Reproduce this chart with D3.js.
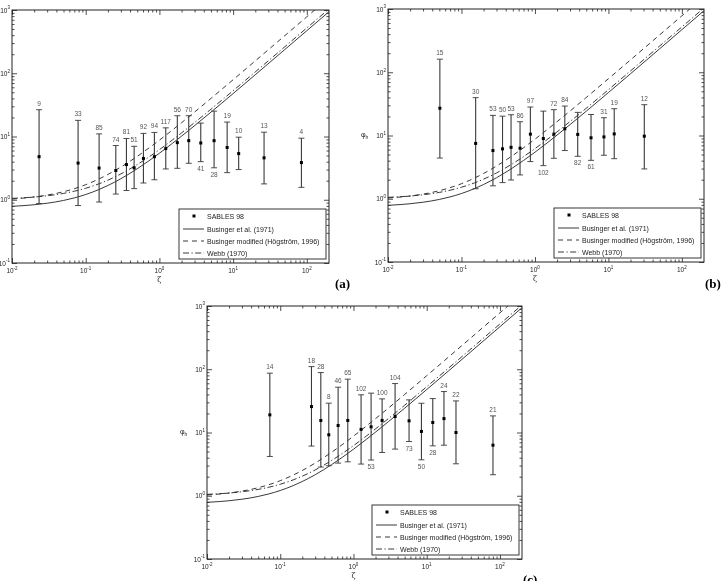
<!DOCTYPE html>
<html><head><meta charset="utf-8">
<script src="https://cdn.jsdelivr.net/npm/d3@7"></script>
<style>body{margin:0;background:#fff}svg{display:block;will-change:transform}</style>
</head><body>
<svg id="c" width="723" height="581"></svg>
<script>
// ---- theoretical curves (values tabulated) ----
const zetaCurve = [0.01,0.015,0.02,0.03,0.05,0.07,0.1,0.15,0.2,0.3,0.5,0.7,1,1.5,2,3,5,7,10,20,50,100,200];
const businger  = [0.787,0.8105,0.834,0.881,0.975,1.069,1.21,1.445,1.68,2.15,3.09,4.03,5.44,7.79,10.14,14.84,24.24,33.64,47.74,94.74,235.74,470.74,940.74];
const hogstrom  = [1.028,1.067,1.106,1.184,1.34,1.496,1.73,2.12,2.51,3.29,4.85,6.41,8.75,12.65,16.55,24.35,39.95,55.55,78.95,156.95,390.95,780.95,1560.95];
const webb      = [1.052,1.078,1.104,1.156,1.26,1.364,1.52,1.78,2.04,2.56,3.6,4.64,6.2,8.8,11.4,16.6,27,37.4,53,105,261,521,1041];

// ---- axis ticks ----
const xTickVals = [0.01,0.1,1,10,100];
const xTickExp  = ["-2","-1","0","1","2"];
const yTickVals = [0.1,1,10,100,1000];
const yTickExp  = ["-1","0","1","2","3"];

// ---- panel (a) ----
const zetaA = [0.0233,0.0788,0.152,0.256,0.357,0.454,0.607,0.855,1.22,1.75,2.5,3.64,5.52,8.3,11.9,26.3,84.5];
const midA  = [4.8,3.8,3.17,2.9,3.6,3.2,4.5,4.8,6.45,8.0,8.6,7.9,8.6,6.7,5.37,4.6,3.87];
const hiA   = [26.5,18,11,7.2,9.3,7.0,11.2,11.6,13.7,21.3,21.3,16.3,25.2,16.9,9.75,11.7,9.4];
const loA   = [0.87,0.81,0.92,1.23,1.4,1.5,1.84,2.07,3.07,3.14,3.77,4.0,3.2,2.68,3.0,1.78,1.57];
const nA    = [9,33,85,74,81,51,92,94,117,56,70,41,28,19,10,13,4];
const sideA = ["u","u","u","u","u","u","u","u","u","u","u","d","d","u","u","u","u"];

// ---- panel (b) ----
const zetaB = [0.0508,0.156,0.268,0.362,0.473,0.627,0.867,1.3,1.81,2.55,3.82,5.8,8.69,12,30.8];
const midB  = [27,7.5,5.78,6.15,6.5,6.3,10.5,8.96,10.5,12.8,10.4,9.2,9.5,10.6,9.75];
const hiB   = [161,39.7,20.8,20.2,21.3,16.5,28.2,24.3,25.6,29.2,23.2,21.5,19.1,26.5,30.7];
const loB   = [4.4,1.44,1.6,1.8,1.98,2.38,3.87,3.34,4.36,5.78,4.69,4.05,4.87,4.3,2.96];
const nB    = [15,30,53,50,53,86,97,102,72,84,82,61,31,19,12];
const sideB = ["u","u","u","u","u","u","u","d","u","u","d","d","u","u","u"];

// ---- panel (c) ----
const zetaC = [0.0721,0.267,0.358,0.46,0.617,0.836,1.27,1.74,2.46,3.7,5.74,8.47,12.1,17.2,25.1,80.3];
const midC  = [19,25.7,15.5,9.2,12.9,15.5,11.2,12.3,15.5,17.9,15.3,10.4,14.4,16.6,10,6.3];
const hiC   = [86.7,110,88.7,29.1,52,69.7,39.4,41.9,34,59.4,32.8,29,34.4,44.4,31.6,18.3];
const loC   = [4.18,6.1,2.84,2.98,3.28,3.44,3.17,3.67,4.83,5.46,7.2,3.7,6.15,6.3,3.2,2.15];
const nC    = [14,18,28,8,46,65,102,53,100,104,73,50,28,24,22,21];
const sideC = ["u","u","u","u","u","u","u","d","u","u","d","d","d","u","u","u"];

const legendLabels = ["SABLES 98","Businger et al. (1971)","Businger modified (Högström, 1996)","Webb (1970)"];
const panelNames = ["(a)","(b)","(c)"];

const FONT = "'Liberation Sans', Arial, sans-serif";
const INK = "#222";

const panels = [
  {name:panelNames[0], x0:12, x1:329, y0:10, y1:263, ylab:false, lx:335, ly:288,
   z:zetaA, m:midA, hi:hiA, lo:loA, n:nA, s:sideA},
  {name:panelNames[1], x0:388, x1:704, y0:9, y1:262, ylab:true, lx:705, ly:288,
   z:zetaB, m:midB, hi:hiB, lo:loB, n:nB, s:sideB},
  {name:panelNames[2], x0:207, x1:522, y0:306, y1:559, ylab:true, lx:523, ly:584,
   z:zetaC, m:midC, hi:hiC, lo:loC, n:nC, s:sideC}
];

const svg = d3.select("#c");
svg.append("rect").attr("width",723).attr("height",581).attr("fill","#fff");

function minorTicks(domain){
  const out=[];
  for(let e=-3;e<=3;e++){
    for(let k=2;k<=9;k++){
      const v=k*Math.pow(10,e);
      if(v>domain[0]&&v<domain[1]) out.push(v);
    }
  }
  return out;
}

panels.forEach((p,pi)=>{
  const x = d3.scaleLog().domain([0.01,200]).range([p.x0,p.x1]);
  const y = d3.scaleLog().domain([0.1,1000]).range([p.y1,p.y0]);
  const g = svg.append("g");
  const clipId = "clip"+pi;
  svg.append("clipPath").attr("id",clipId).append("rect")
    .attr("x",p.x0).attr("y",p.y0).attr("width",p.x1-p.x0).attr("height",p.y1-p.y0);

  const W = p.x1-p.x0, H = p.y1-p.y0;
  const mk = (axis, tr, vals, size) => {
    const a = g.append("g").attr("transform",tr)
      .call(axis.tickValues(vals).tickSize(size).tickSizeOuter(0).tickFormat(""));
    a.select(".domain").remove();
    a.selectAll("line").attr("stroke",INK).attr("stroke-width",0.8);
  };
  const xMin = minorTicks(x.domain()), yMin = minorTicks(y.domain());
  mk(d3.axisBottom(x), `translate(0,${p.y1})`, xTickVals, -5);
  mk(d3.axisBottom(x), `translate(0,${p.y1})`, xMin, -2.5);
  mk(d3.axisTop(x), `translate(0,${p.y0})`, xTickVals, -5);
  mk(d3.axisTop(x), `translate(0,${p.y0})`, xMin, -2.5);
  mk(d3.axisLeft(y), `translate(${p.x0},0)`, yTickVals, -5);
  mk(d3.axisLeft(y), `translate(${p.x0},0)`, yMin, -2.5);
  mk(d3.axisRight(y), `translate(${p.x1},0)`, yTickVals, -5);
  mk(d3.axisRight(y), `translate(${p.x1},0)`, yMin, -2.5);

  // tick labels
  xTickVals.forEach((v,i)=>{
    const t = g.append("text").attr("x",x(v)).attr("y",p.y1+10)
      .attr("text-anchor","middle").attr("font-family",FONT).attr("font-size",6.5).attr("fill",INK);
    t.append("tspan").text("10");
    t.append("tspan").attr("dy",-3.2).attr("font-size",4.5).text(xTickExp[i]);
  });
  yTickVals.forEach((v,i)=>{
    const t = g.append("text").attr("x",p.x0-2).attr("y",y(v)+2.5)
      .attr("text-anchor","end").attr("font-family",FONT).attr("font-size",6.5).attr("fill",INK);
    t.append("tspan").text("10");
    t.append("tspan").attr("dy",-3.2).attr("font-size",4.5).text(yTickExp[i]);
  });

  // frame
  g.append("rect").attr("x",p.x0).attr("y",p.y0).attr("width",W).attr("height",H)
    .attr("fill","none").attr("stroke",INK).attr("stroke-width",1);

  // axis titles
  g.append("text").attr("x",(x(1))).attr("y",p.y1+19).attr("text-anchor","middle")
    .attr("font-family","'DejaVu Serif', serif").attr("font-size",7.5).attr("fill",INK).text("ζ");
  if(p.ylab){
    const t = g.append("text").attr("x",p.x0-27).attr("y",y(10)+1)
      .attr("font-family",FONT).attr("font-size",7).attr("fill",INK);
    t.append("tspan").text("φ");
    t.append("tspan").attr("dy",2).attr("font-size",4.8).text("h");
  }
  g.append("text").attr("x",p.lx).attr("y",p.ly)
    .attr("font-family","'Liberation Serif', 'Times New Roman', serif").attr("font-weight","bold")
    .attr("font-size",13).attr("fill","#000").text(p.name);

  // curves
  const line = d3.line().x(d=>x(d[0])).y(d=>y(d[1])).curve(d3.curveMonotoneX);
  const cg = g.append("g").attr("clip-path",`url(#${clipId})`);
  const curves = [
    {v:businger, dash:null},
    {v:hogstrom, dash:"5,4"},
    {v:webb, dash:"6,2.5,1.2,2.5"}
  ];
  curves.forEach(c=>{
    cg.append("path").datum(zetaCurve.map((z,i)=>[z,c.v[i]]))
      .attr("d",line).attr("fill","none").attr("stroke",INK).attr("stroke-width",0.9)
      .attr("stroke-dasharray",c.dash);
  });

  // error bars
  const eb = g.append("g");
  p.z.forEach((z,i)=>{
    const cx = x(z);
    eb.append("line").attr("x1",cx).attr("x2",cx).attr("y1",y(p.hi[i])).attr("y2",y(p.lo[i]))
      .attr("stroke","#3a3a3a").attr("stroke-width",1.1);
    [p.hi[i],p.lo[i]].forEach(v=>{
      eb.append("line").attr("x1",cx-3).attr("x2",cx+3).attr("y1",y(v)).attr("y2",y(v))
        .attr("stroke","#3a3a3a").attr("stroke-width",0.9);
    });
    eb.append("rect").attr("x",cx-1.5).attr("y",y(p.m[i])-1.5).attr("width",3).attr("height",3).attr("fill","#000");
    const up = p.s[i]==="u";
    eb.append("text").attr("x",cx).attr("y",up ? y(p.hi[i])-4 : y(p.lo[i])+9)
      .attr("text-anchor","middle").attr("font-family",FONT).attr("font-size",6.5).attr("fill","#555")
      .text(p.n[i]);
  });

  // legend
  const bx = p.x1-150, by = p.y1-54;
  const lg = g.append("g");
  lg.append("rect").attr("x",bx).attr("y",by).attr("width",147).attr("height",50)
    .attr("fill","#fff").attr("stroke",INK).attr("stroke-width",0.9);
  const rows = [7,20,32,44];
  legendLabels.forEach((lab,i)=>{
    const ry = by+rows[i];
    if(i===0){
      lg.append("rect").attr("x",bx+13.5).attr("y",ry-1.5).attr("width",3).attr("height",3).attr("fill","#000");
    } else {
      lg.append("line").attr("x1",bx+4).attr("x2",bx+25).attr("y1",ry).attr("y2",ry)
        .attr("stroke",INK).attr("stroke-width",0.9)
        .attr("stroke-dasharray",[null,"5,4","6,2.5,1.2,2.5"][i-1]);
    }
    lg.append("text").attr("x",bx+28).attr("y",ry+2.5).attr("font-family",FONT)
      .attr("font-size",7).attr("fill",INK).text(lab);
  });
});
</script>
</body></html>
